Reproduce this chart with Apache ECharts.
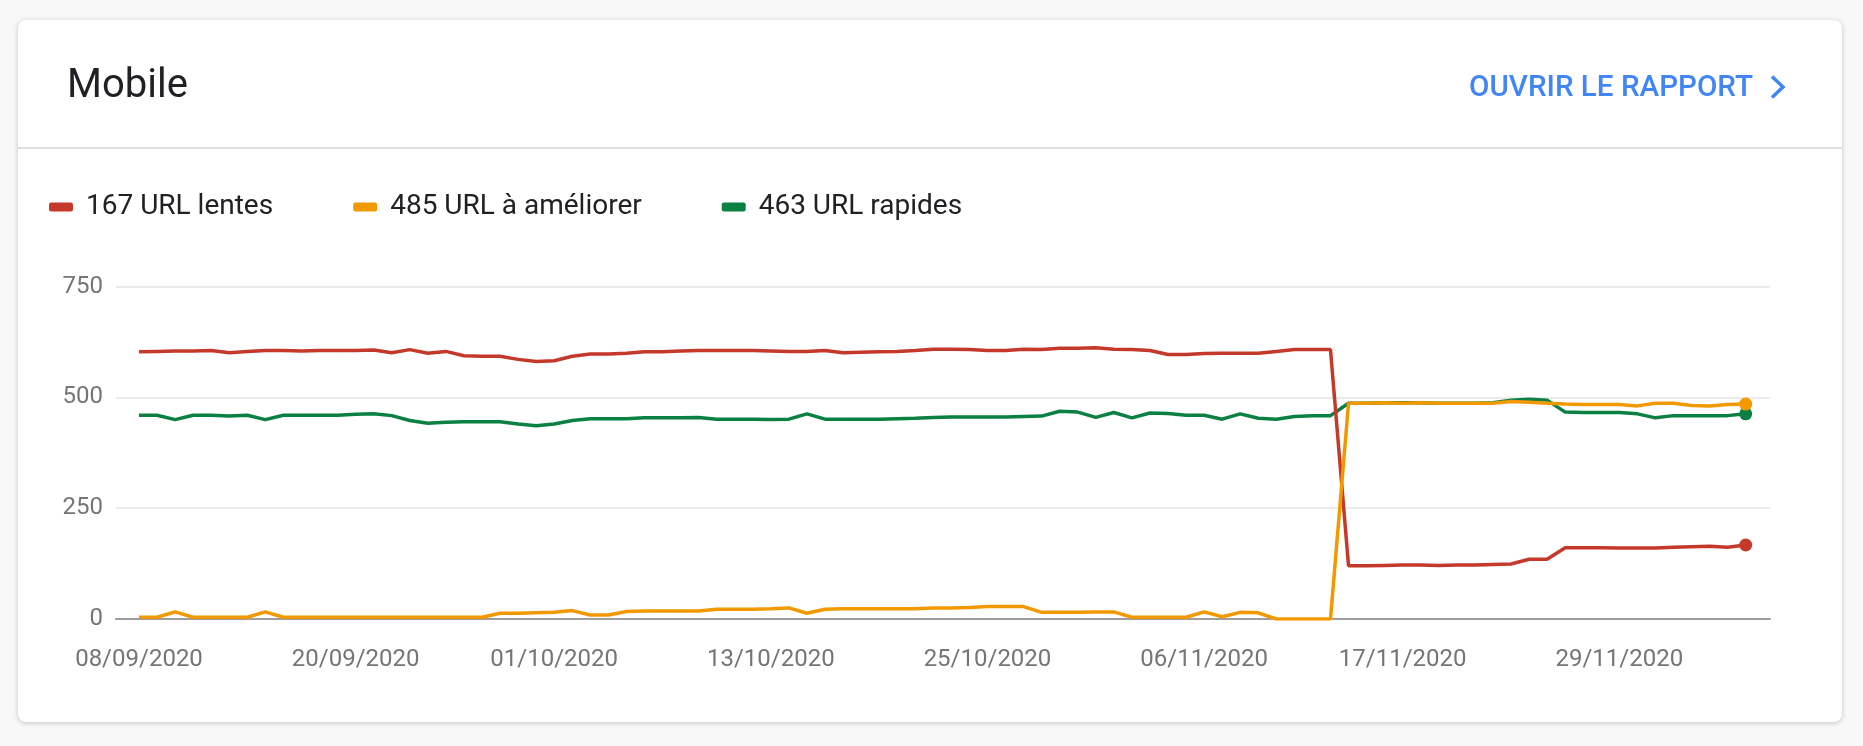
<!DOCTYPE html>
<html>
<head>
<meta charset="utf-8">
<script src="https://cdn.jsdelivr.net/npm/echarts@6/dist/echarts.min.js"></script>
<style>
html,body{margin:0;padding:0;background:#f8f8f8;width:1863px;height:746px;overflow:hidden;}
#card{position:absolute;left:18px;top:20px;width:1824px;height:702px;background:#fff;border-radius:8px;box-shadow:0 1px 5px rgba(0,0,0,0.22);}
#c{position:absolute;left:0;top:0;width:1863px;height:746px;}
</style>
</head>
<body>
<div id="card"></div>
<div id="c"></div>
<script>
const dates = [
'08/09/2020','09/09/2020','10/09/2020','11/09/2020','12/09/2020','13/09/2020','14/09/2020','15/09/2020','16/09/2020','17/09/2020',
'18/09/2020','19/09/2020','20/09/2020','21/09/2020','22/09/2020','23/09/2020','24/09/2020','25/09/2020','26/09/2020','27/09/2020',
'28/09/2020','29/09/2020','30/09/2020','01/10/2020','02/10/2020','03/10/2020','04/10/2020','05/10/2020','06/10/2020','07/10/2020',
'08/10/2020','09/10/2020','10/10/2020','11/10/2020','12/10/2020','13/10/2020','14/10/2020','15/10/2020','16/10/2020','17/10/2020',
'18/10/2020','19/10/2020','20/10/2020','21/10/2020','22/10/2020','23/10/2020','24/10/2020','25/10/2020','26/10/2020','27/10/2020',
'28/10/2020','29/10/2020','30/10/2020','31/10/2020','01/11/2020','02/11/2020','03/11/2020','04/11/2020','05/11/2020','06/11/2020',
'07/11/2020','08/11/2020','09/11/2020','10/11/2020','11/11/2020','12/11/2020','13/11/2020','14/11/2020','15/11/2020','16/11/2020',
'17/11/2020','18/11/2020','19/11/2020','20/11/2020','21/11/2020','22/11/2020','23/11/2020','24/11/2020','25/11/2020','26/11/2020',
'27/11/2020','28/11/2020','29/11/2020','30/11/2020','01/12/2020','02/12/2020','03/12/2020','04/12/2020','05/12/2020','06/12/2020'
];
const xTickLabels = ['08/09/2020','20/09/2020','01/10/2020','13/10/2020','25/10/2020','06/11/2020','17/11/2020','29/11/2020'];
const seriesNames = ['167 URL lentes','485 URL à améliorer','463 URL rapides'];

const slowUrls = [
603,604,605,605,606,601,604,606,606,605,606,606,606,607,601,608,600,604,594,593,593,
586,581,583,593,598,598,600,603,603,605,606,606,606,606,605,604,604,606,601,602,603,604,606,609,
609,608,606,606,609,608,611,611,612,609,608,606,597,597,599,600,600,600,604,608,608,608,
120,120,121,122,122,121,122,122,123,124,135,135,161,161,161,160,160,160,162,163,164,162,167
];
const improveUrls = [
4,4,16,4,4,4,4,16,4,4,4,4,4,4,4,4,4,4,4,4,13,
13,14,15,19,9,9,17,18,18,18,18,22,22,22,23,25,13,22,23,23,23,23,23,25,
25,26,28,28,28,15,15,15,16,16,4,4,4,4,16,5,15,14,0,0,0,0,
487,487,488,487,488,487,487,487,487,491,489,487,485,484,484,484,481,487,487,482,481,484,485
];
const fastUrls = [
460,460,450,460,460,458,460,450,460,460,460,460,462,463,459,448,442,444,445,445,445,
440,436,440,448,452,452,452,454,454,454,455,451,451,451,450,451,463,451,451,451,451,452,453,455,
456,456,456,456,457,458,469,467,455,466,454,465,464,460,460,451,463,453,451,457,459,459,
487,487,488,488,488,487,487,487,488,494,496,494,467,466,466,466,463,454,459,459,459,459,463
];

const colors = {slow:'#c5392a', improve:'#f29900', fast:'#0b8043'};
const lastIdx = dates.length - 1;
const tickIdx = xTickLabels.map(l => dates.indexOf(l));

function mk(name, vals, color, z) {
  return {
    name: name, type: 'line', z: z,
    data: vals.map((v, i) => [i, v]),
    lineStyle: {color: color, width: 3.5},
    itemStyle: {color: color},
    symbol: 'circle',
    symbolSize: (val, p) => (p.dataIndex === lastIdx ? 13 : 0),
    showSymbol: true, showAllSymbol: true,
    emphasis: {disabled: true}, silent: true,
    animation: false
  };
}

const chart = echarts.init(document.getElementById('c'));
chart.setOption({
  animation: false,
  backgroundColor: 'transparent',
  textStyle: {fontFamily: 'Roboto'},
  grid: {left: 116, right: 93, top: 286.7, bottom: 127},
  legend: {
    left: 44, top: 188, itemWidth: 24, itemHeight: 9, itemGap: 80,
    icon: 'roundRect', selectedMode: false, data: seriesNames,
    textStyle: {fontSize: 28, color: '#202124', fontFamily: 'Roboto', padding: [0, 0, 0, 8]}
  },
  xAxis: {
    type: 'value', min: -1.274, max: 90.346,
    axisLine: {show: true, lineStyle: {color: '#9e9e9e', width: 2}},
    axisTick: {show: false},
    splitLine: {show: false},
    axisLabel: {
      customValues: tickIdx,
      formatter: v => dates[Math.round(v)],
      color: '#757575', fontSize: 24, fontFamily: 'Roboto', margin: 28.5
    }
  },
  yAxis: {
    type: 'value', min: 0, max: 750, interval: 250,
    axisLine: {show: false}, axisTick: {show: false},
    axisLabel: {color: '#757575', fontSize: 24, fontFamily: 'Roboto', margin: 13},
    splitLine: {lineStyle: {color: '#ebebeb', width: 2}}
  },
  graphic: [
    {type: 'line', shape: {x1: 18, y1: 148, x2: 1842, y2: 148}, style: {stroke: '#e0e0e0', lineWidth: 2}},
    {type: 'text', x: 67, y: 87, style: {text: 'Mobile', font: '40px Roboto', fill: '#202124', verticalAlign: 'middle'}},
    {type: 'text', x: 1753, y: 88.5, style: {text: 'OUVRIR LE RAPPORT', font: '500 29.6px Roboto', fill: '#4285f4', align: 'right', verticalAlign: 'middle'}},
    {type: 'polyline', shape: {points: [[1772, 76.5], [1783, 87], [1772, 97.5]]}, style: {stroke: '#4285f4', lineWidth: 3.5, fill: null}}
  ],
  series: [
    mk(seriesNames[2], fastUrls, colors.fast, 2),
    mk(seriesNames[0], slowUrls, colors.slow, 3),
    mk(seriesNames[1], improveUrls, colors.improve, 4)
  ]
});
</script>
</body>
</html>
